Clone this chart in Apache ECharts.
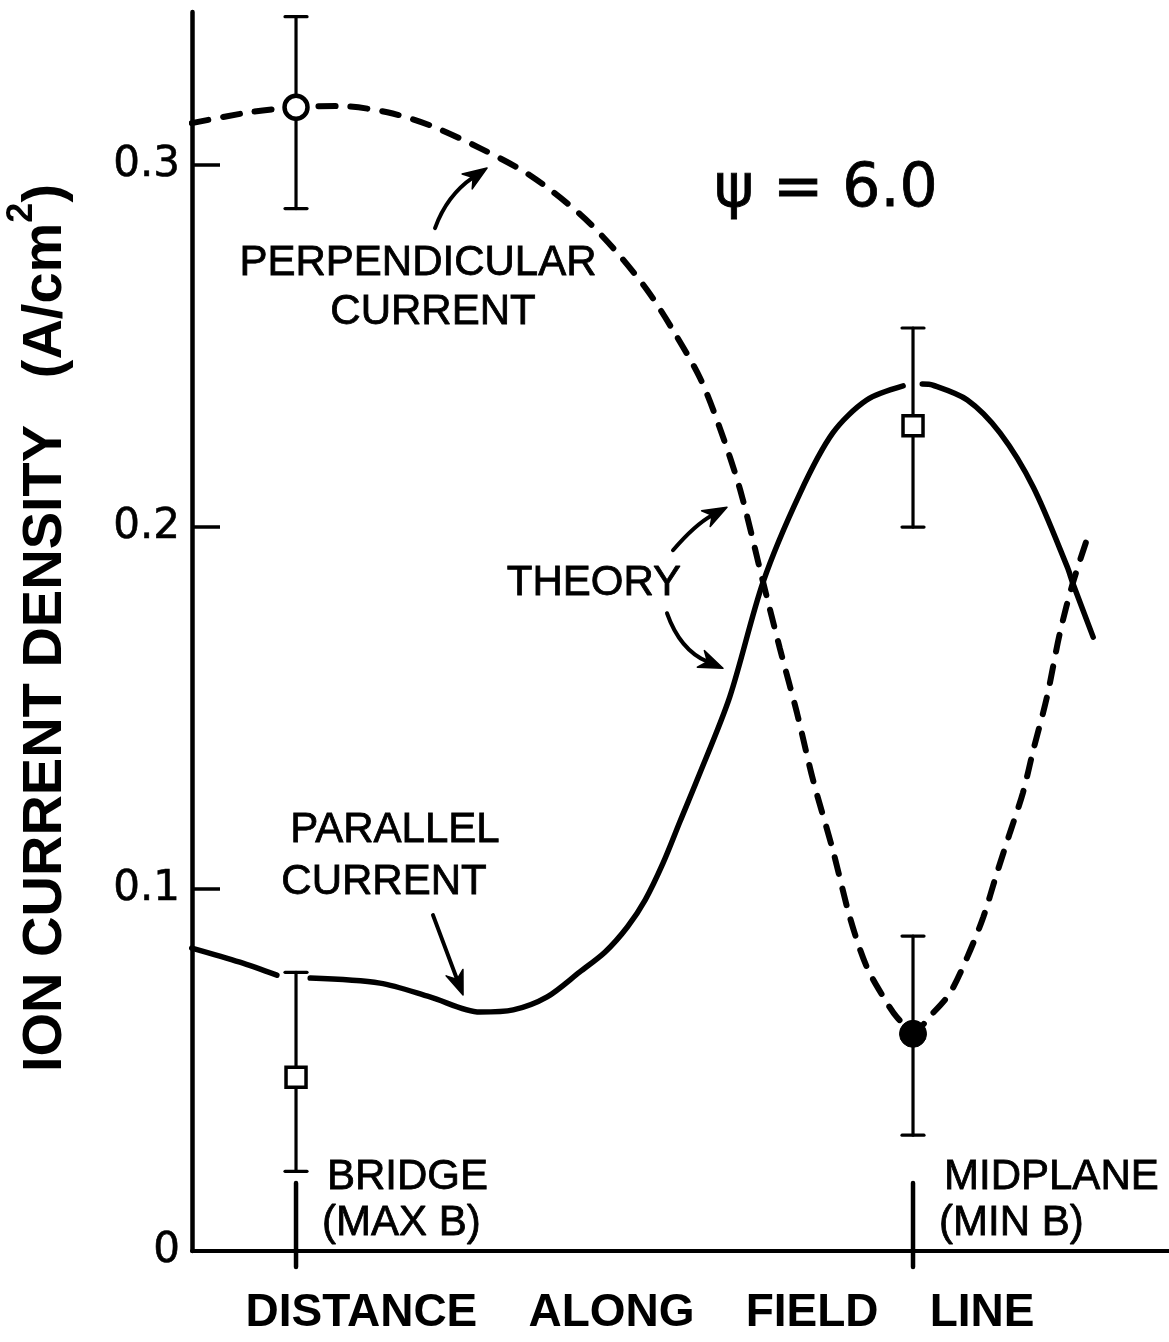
<!DOCTYPE html>
<html>
<head>
<meta charset="utf-8">
<title>Ion current density along a field line</title>
<script src="https://cdn.jsdelivr.net/npm/echarts@6/dist/echarts.min.js"></script>
<style>
  html, body { margin: 0; padding: 0; background: #fff; }
  #chart { width: 1169px; height: 1342px; }
</style>
</head>
<body>
<div id="chart"></div>
<script>
// Distance along the field line, in units where 0 = bridge (max B) and 1 = midplane (min B)
const sitePositions = [0, 1];
const siteNames = ['BRIDGE', 'MIDPLANE'];
const siteNotes = ['(MAX B)', '(MIN B)'];

// Y axis (A/cm^2)
const yTickValues = [0.1, 0.2, 0.3];
const yLabelValues = [0, 0.1, 0.2, 0.3];

// Theory, perpendicular current [distance, density]
const perpendicularTheory = [
  [-0.169, 0.3116], [-0.075, 0.3146], [0.000, 0.3160], [0.071, 0.3163], [0.148, 0.3146],
  [0.217, 0.3110], [0.298, 0.3047], [0.379, 0.2972], [0.460, 0.2865], [0.514, 0.2771],
  [0.569, 0.2655], [0.611, 0.2544], [0.655, 0.2411], [0.687, 0.2273], [0.720, 0.2102],
  [0.757, 0.1848], [0.784, 0.1666], [0.812, 0.1486], [0.838, 0.1301], [0.870, 0.1108],
  [0.898, 0.0920], [0.925, 0.0785], [0.958, 0.0685], [0.974, 0.0646], [1.000, 0.0605],
  [1.032, 0.0657], [1.060, 0.0713], [1.088, 0.0812], [1.114, 0.0923], [1.136, 0.1044],
  [1.157, 0.1155], [1.178, 0.1265], [1.195, 0.1384], [1.217, 0.1530], [1.238, 0.1707],
  [1.259, 0.1845], [1.287, 0.1992]
];

// Theory, parallel current; '-' breaks the pen line where it meets an error bar
const parallelTheory = [
  [-0.169, 0.0837], [-0.091, 0.0798], [-0.031, 0.0762], [0, '-'], [0.023, 0.0754],
  [0.136, 0.0740], [0.217, 0.0702], [0.298, 0.0660], [0.352, 0.0666], [0.407, 0.0702],
  [0.460, 0.0771], [0.501, 0.0826], [0.537, 0.0895], [0.566, 0.0970], [0.595, 0.1072],
  [0.622, 0.1185], [0.650, 0.1301], [0.703, 0.1531], [0.757, 0.1848], [0.817, 0.2094],
  [0.870, 0.2260], [0.925, 0.2351], [0.984, 0.2390], [1, '-'], [1.015, 0.2395],
  [1.032, 0.2392], [1.088, 0.2351], [1.141, 0.2260], [1.195, 0.2110], [1.250, 0.1890],
  [1.259, 0.1845], [1.292, 0.1696]
];

// Measurements [distance, density, low, high]
const perpendicularMeasured = [[0, 0.316, 0.288, 0.341], [1, 0.060, 0.032, 0.087]];
const parallelMeasured = [[0, 0.048, 0.022, 0.077], [1, 0.228, 0.200, 0.255]];

const FONT = '"Liberation Sans", Arial, sans-serif';
const NUM_FONT = '"DejaVu Sans", "Liberation Sans", sans-serif';
const INK = '#000';

const chart = echarts.init(document.getElementById('chart'), null, { renderer: 'canvas' });

function errorBarItem(params, api) {
  const x = api.value(0);
  const lo = api.coord([x, api.value(2)]);
  const hi = api.coord([x, api.value(3)]);
  const hw = 11;
  const st = { stroke: INK, lineWidth: 3.2, lineCap: 'round' };
  return {
    type: 'group',
    children: [
      { type: 'line', shape: { x1: lo[0], y1: lo[1], x2: hi[0], y2: hi[1] }, style: st },
      { type: 'line', shape: { x1: lo[0] - hw, y1: lo[1], x2: lo[0] + hw, y2: lo[1] }, style: st },
      { type: 'line', shape: { x1: hi[0] - hw, y1: hi[1], x2: hi[0] + hw, y2: hi[1] }, style: st }
    ]
  };
}

function siteItem(params, api) {
  const i = params.dataIndex;
  const p = api.coord([api.value(0), 0]);
  const textStyle = { fill: INK, font: '42px ' + FONT, stroke: INK, lineWidth: 0.8,
    textAlign: 'left', textVerticalAlign: 'middle' };
  return {
    type: 'group',
    children: [
      { type: 'line', shape: { x1: p[0], y1: p[1] - 68, x2: p[0], y2: p[1] + 16 },
        style: { stroke: INK, lineWidth: 4.5, lineCap: 'round' } },
      { type: 'text', x: p[0] + 31, y: p[1] - 74, style: Object.assign({ text: siteNames[i] }, textStyle) },
      { type: 'text', x: p[0] + 26, y: p[1] - 28, style: Object.assign({ text: siteNotes[i] }, textStyle) }
    ]
  };
}

const option = {
  backgroundColor: '#fff',
  animation: false,
  grid: { left: 192, right: 0, top: 12, bottom: 91, containLabel: false },
  xAxis: {
    type: 'value',
    min: -0.1686,
    max: 1.4149,
    axisLine: { show: true, onZero: false, lineStyle: { color: INK, width: 4 } },
    axisTick: { show: false },
    axisLabel: { show: false },
    splitLine: { show: false }
  },
  yAxis: {
    type: 'value',
    min: 0,
    max: 0.3423,
    interval: 0.1,
    axisLine: { show: true, onZero: false, lineStyle: { color: INK, width: 4.5 } },
    axisTick: { show: true, inside: true, length: 28, customValues: yTickValues,
      lineStyle: { color: INK, width: 3.5 } },
    axisLabel: {
      show: true, customValues: yLabelValues, margin: 12,
      color: INK, fontFamily: NUM_FONT, fontSize: 42,
      textBorderColor: INK, textBorderWidth: 0.6,
      formatter: v => (v === 0 ? '0' : v.toFixed(1))
    },
    splitLine: { show: false }
  },
  series: [
    {
      name: 'Perpendicular current (theory)',
      type: 'line',
      data: perpendicularTheory,
      smooth: 0.3,
      symbol: 'none',
      z: 2,
      lineStyle: { color: INK, width: 6, type: [17, 15], cap: 'round' }
    },
    {
      name: 'Parallel current (theory)',
      type: 'line',
      data: parallelTheory,
      smooth: 0.3,
      connectNulls: false,
      symbol: 'none',
      z: 2,
      lineStyle: { color: INK, width: 5.5, cap: 'round' }
    },
    {
      name: 'Error bars',
      type: 'custom',
      renderItem: errorBarItem,
      data: perpendicularMeasured.concat(parallelMeasured),
      encode: { x: 0, y: [2, 3] },
      z: 3
    },
    {
      name: 'Perpendicular current',
      type: 'scatter',
      data: perpendicularMeasured.map(d => ({
        value: [d[0], d[1]],
        itemStyle: d[0] === sitePositions[1]
          ? { color: INK, borderColor: INK, borderWidth: 1, opacity: 1 }
          : { color: '#fff', borderColor: INK, borderWidth: 4.5, opacity: 1 }
      })),
      symbol: 'circle',
      symbolSize: p => (p[0] === sitePositions[1] ? 27 : 23),
      z: 4
    },
    {
      name: 'Parallel current',
      type: 'scatter',
      data: parallelMeasured.map(d => [d[0], d[1]]),
      symbol: 'rect',
      symbolSize: 20,
      itemStyle: { color: '#fff', borderColor: INK, borderWidth: 3.5, opacity: 1 },
      z: 4
    },
    {
      name: 'Sites',
      type: 'custom',
      renderItem: siteItem,
      data: sitePositions.map(x => [x, 0]),
      encode: { x: 0, y: 1 },
      clip: false,
      z: 3
    }
  ]
};

chart.setOption(option);

// Annotation arrows, anchored in data coordinates: [tail, control, tip]
const arrows = [
  [[0.2253, 0.2826], [0.2447, 0.2917], [0.3096, 0.2992]],
  [[0.6110, 0.1936], [0.6467, 0.2007], [0.6985, 0.2055]],
  [[0.6013, 0.1762], [0.6224, 0.1660], [0.6920, 0.1610]],
  [[0.2220, 0.0928], [0.2460, 0.0818], [0.2707, 0.0707]]
];

function toPx(p) { return chart.convertToPixel({ gridIndex: 0 }, p); }

function arrowGraphics(spec) {
  const t = toPx(spec[0]), c = toPx(spec[1]), h = toPx(spec[2]);
  let dx = h[0] - c[0], dy = h[1] - c[1];
  const len = Math.hypot(dx, dy); dx /= len; dy /= len;
  const L = 24, W = 9;
  const bx = h[0] - dx * L, by = h[1] - dy * L;
  const nx = -dy, ny = dx;
  const notchX = h[0] - dx * L * 0.7, notchY = h[1] - dy * L * 0.7;
  return [
    { type: 'bezierCurve',
      shape: { x1: t[0], y1: t[1], cpx1: c[0], cpy1: c[1], x2: notchX, y2: notchY },
      style: { stroke: INK, lineWidth: 4, fill: null, lineCap: 'round' }, z: 10 },
    { type: 'polygon',
      shape: { points: [[h[0], h[1]], [bx + nx * W, by + ny * W], [notchX, notchY], [bx - nx * W, by - ny * W]] },
      style: { fill: INK, stroke: INK, lineWidth: 1.5, lineJoin: 'round' }, z: 10 }
  ];
}

function label(text, x, y, size, font) {
  return {
    type: 'text', x: x, y: y, z: 10,
    style: { text: text, fill: INK, font: size + 'px ' + (font || FONT), stroke: INK, lineWidth: 0.8,
      textAlign: 'center', textVerticalAlign: 'middle' }
  };
}

const graphics = [];
arrows.forEach(a => graphics.push.apply(graphics, arrowGraphics(a)));
graphics.push(
  label('PERPENDICULAR', 418, 263, 42),
  label('CURRENT', 433, 312, 42),
  label('THEORY', 594, 583, 42),
  label('PARALLEL', 395, 830, 42),
  label('CURRENT', 384, 882, 42),
  label('\u03C8 = 6.0', 826, 190, 60, NUM_FONT),
  {
    type: 'text', x: 640, y: 1313, z: 10,
    style: { text: 'DISTANCE    ALONG    FIELD    LINE', fill: INK, font: 'bold 46px ' + FONT,
      textAlign: 'center', textVerticalAlign: 'middle' }
  },
  {
    type: 'text', x: 46, y: 628, rotation: Math.PI / 2, z: 10,
    style: {
      text: '{t|ION CURRENT DENSITY   (A/cm}{s|2}{t|)}',
      textAlign: 'center', textVerticalAlign: 'middle',
      rich: {
        t: { fontFamily: FONT, fontWeight: 'bold', fontSize: 56, fill: INK, lineHeight: 84 },
        s: { fontFamily: FONT, fontWeight: 'bold', fontSize: 36, fill: INK, verticalAlign: 'top', lineHeight: 84 }
      }
    }
  }
);

chart.setOption({ graphic: graphics });
</script>
</body>
</html>
